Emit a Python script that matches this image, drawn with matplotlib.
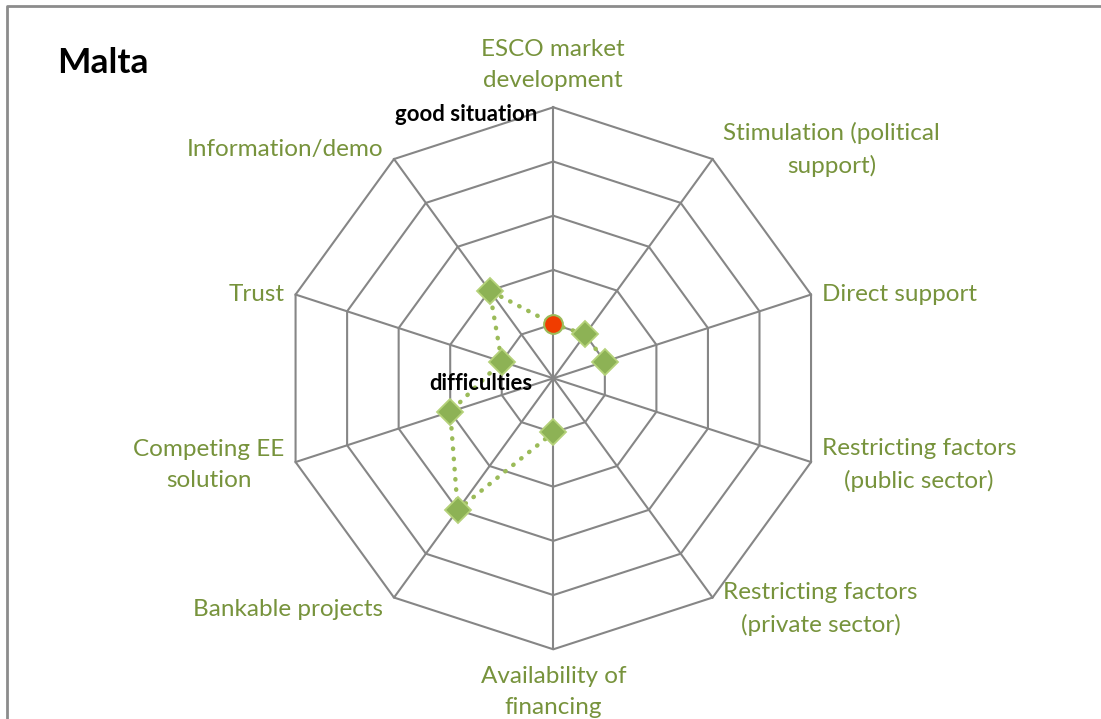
import numpy as np
import matplotlib
matplotlib.use('Agg')
import matplotlib.pyplot as plt
from matplotlib.lines import Line2D

# Datos
categorias = ['ESCO market\ndevelopment', 'Stimulation (political\nsupport)', 'Direct support',
              'Restricting factors\n(public sector)', 'Restricting factors\n(private sector)',
              'Availability of\nfinancing', 'Bankable projects', 'Competing EE\nsolution',
              'Trust', 'Information/demo']
valores = [1, 1, 1, np.nan, np.nan, 1, 3, 2, 1, 2]
n_anillos = 5

plt.rcParams['font.family'] = ['Lato', 'DejaVu Sans']

W, H = 1101, 719
cx, cy = 553.3, 378.3          # centro en px (desde arriba)
esc = 54.2                      # px por unidad

fig = plt.figure(figsize=(W / 100, H / 100), dpi=100)
ax = fig.add_axes([0, 0, 1, 1])
ax.set_xlim(-cx / esc, (W - cx) / esc)
ax.set_ylim(-(H - cy) / esc, cy / esc)
ax.axis('off')

n = len(categorias)
ang = np.arange(n) * 2 * np.pi / n
sx, sy = np.sin(ang), np.cos(ang)

gris = '#868686'
# Anillos
for k in range(1, n_anillos + 1):
    ax.plot(np.append(sx, sx[0]) * k, np.append(sy, sy[0]) * k, color=gris, lw=1.5, zorder=1)
# Radios
for i in range(n):
    ax.plot([0, sx[i] * n_anillos], [0, sy[i] * n_anillos], color=gris, lw=1.5, zorder=1)

# Serie
v = np.append(valores, valores[0])
xs = np.append(sx, sx[0]) * v
ys = np.append(sy, sy[0]) * v
ax.plot(xs, ys, color='#9BBB59', lw=3.2, linestyle=(0, (0.1, 2.2)),
        dash_capstyle='round', zorder=3)
ax.plot(xs[1:-1], ys[1:-1], linestyle='none', marker='D', ms=13,
        markerfacecolor='#8DB255', markeredgecolor='#B5D27A', markeredgewidth=1.3, zorder=4)
ax.plot(xs[0], ys[0], linestyle='none', marker='o', ms=13.5,
        markerfacecolor='#F03C00', markeredgecolor='#9BBB59', markeredgewidth=1.5, zorder=5)

# Etiquetas de ejes
verde = '#77933C'
R = n_anillos
for i, lab in enumerate(categorias):
    x, y = sx[i] * R, sy[i] * R
    if abs(sx[i]) < 1e-6:
        ha = 'center'
        va = 'bottom' if sy[i] > 0 else 'top'
        y += 0.3 if sy[i] > 0 else -0.3
    else:
        ha = 'left' if sx[i] > 0 else 'right'
        va = 'center'
        x += 0.2 if sx[i] > 0 else -0.2
        y -= 0.05 if sy[i] < 0 else 0.0
        if abs(sy[i]) > 0.7:
            y += 0.17 * np.sign(sy[i])
    ax.text(x, y, lab, ha=ha, va=va, color=verde, fontsize=17.5,
            multialignment='center', linespacing=1.6)

ax.text(-1.61, 4.86, 'good situation', ha='center', va='center', fontsize=16, fontweight='bold')
ax.text(-1.33, -0.09, 'difficulties', ha='center', va='center', fontsize=15.8, fontweight='bold')
fig.text(57 / W, 1 - 63 / H, 'Malta', ha='left', va='center', fontsize=25.5, fontweight='bold')

# Marco
fig.add_artist(Line2D([7 / W, 7 / W, 1], [0, 1 - 6 / H, 1 - 6 / H], color='#8C8C8C', lw=2,
                      transform=fig.transFigure))

fig.savefig('out.png', dpi=100)
